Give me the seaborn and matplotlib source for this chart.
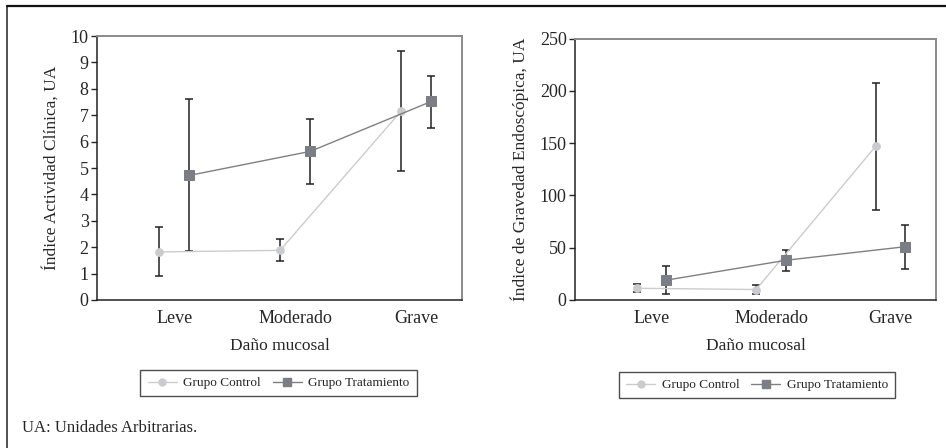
import matplotlib
matplotlib.use("Agg")
import matplotlib.pyplot as plt
from matplotlib.lines import Line2D
import seaborn as sns
import numpy as np
import pandas as pd

categorias = ["Leve", "Moderado", "Grave"]
grupos = ["Grupo Control", "Grupo Tratamiento"]

# Índice de Actividad Clínica (media, límite inferior, límite superior)
iac_control = [1.82, 1.88, 7.15]
iac_control_lo = [0.92, 1.48, 4.88]
iac_control_hi = [2.78, 2.32, 9.45]
iac_trat = [4.72, 5.63, 7.52]
iac_trat_lo = [1.84, 4.38, 6.5]
iac_trat_hi = [7.63, 6.84, 8.48]

# Índice de Gravedad Endoscópica
ige_control = [11.2, 10.0, 147.0]
ige_control_lo = [7.2, 5.8, 86.0]
ige_control_hi = [15.5, 14.4, 208.0]
ige_trat = [19.0, 38.0, 51.0]
ige_trat_lo = [5.5, 27.8, 30.0]
ige_trat_hi = [32.8, 47.6, 71.8]

sns.set_style("white")
plt.rcParams["font.family"] = ["Liberation Serif", "DejaVu Serif"]

col_control = "#c9cbcf"
col_trat = "#7b7e84"
line_control = "#cccccc"
line_trat = "#808080"

fig = plt.figure(figsize=(9.46, 4.48), dpi=100)
ax1 = fig.add_axes([0.1025, 0.3304, 0.3859, 0.5892])
ax2 = fig.add_axes([0.6078, 0.3304, 0.3816, 0.5832])

x = np.arange(len(categorias))


def panel(ax, ctrl, clo, chi, trat, tlo, thi, ylim, yticks, ylabel, off):
    df = pd.DataFrame({
        "x": np.concatenate([x - off, x + off]),
        "y": ctrl + trat,
        "grupo": [grupos[0]] * 3 + [grupos[1]] * 3,
    })
    ax.errorbar(x - off, ctrl,
                yerr=[np.array(ctrl) - np.array(clo), np.array(chi) - np.array(ctrl)],
                fmt="none", ecolor="#222222", elinewidth=1.1, capsize=3.2, capthick=1.1, zorder=2)
    ax.errorbar(x + off, trat,
                yerr=[np.array(trat) - np.array(tlo), np.array(thi) - np.array(trat)],
                fmt="none", ecolor="#222222", elinewidth=1.1, capsize=3.2, capthick=1.1, zorder=2)
    sns.lineplot(data=df[df.grupo == grupos[0]], x="x", y="y", ax=ax, color=line_control,
                 marker="o", markersize=5.5, markerfacecolor=col_control, markeredgecolor=col_control,
                 linewidth=1.0, legend=False, zorder=3)
    sns.lineplot(data=df[df.grupo == grupos[1]], x="x", y="y", ax=ax, color=line_trat,
                 marker="s", markersize=6.8, markerfacecolor=col_trat, markeredgecolor=col_trat,
                 linewidth=1.0, legend=False, zorder=4)
    ax.set_xlim(-0.64, 2.38)
    ax.set_ylim(*ylim)
    ax.set_yticks(yticks)
    ax.set_xticks(x)
    ax.set_xticklabels(categorias, fontsize=13)
    ax.tick_params(axis="y", direction="out", length=4, width=1, labelsize=13, left=True, pad=2)
    ax.tick_params(axis="x", length=0, pad=7)
    ax.set_xlabel("Daño mucosal", fontsize=12.5, labelpad=8)
    ax.set_ylabel(ylabel, fontsize=12.5, labelpad=8)
    for s in ["left", "bottom"]:
        ax.spines[s].set_color("#222222")
        ax.spines[s].set_linewidth(1.1)
    for s in ["top", "right"]:
        ax.spines[s].set_color("#8a8a8a")
        ax.spines[s].set_linewidth(1.4)
    handles = [
        Line2D([], [], color=line_control, marker="o", markersize=5, markerfacecolor=col_control,
               markeredgecolor=col_control, linewidth=1.0),
        Line2D([], [], color=line_trat, marker="s", markersize=6, markerfacecolor=col_trat,
               markeredgecolor=col_trat, linewidth=1.0),
    ]
    return handles


h = panel(ax1, iac_control, iac_control_lo, iac_control_hi, iac_trat, iac_trat_lo, iac_trat_hi,
          (0, 10), range(0, 11), "Índice Actividad Clínica, UA", 0.125)
panel(ax2, ige_control, ige_control_lo, ige_control_hi, ige_trat, ige_trat_lo, ige_trat_hi,
      (0, 250), range(0, 251, 50), "Índice de Gravedad Endoscópica, UA", 0.125)

for cx, cy in [(278.5 / 946, 1 - 383 / 448), (757 / 946, 1 - 385 / 448)]:
    leg = fig.legend(h, grupos, loc="center", bbox_to_anchor=(cx, cy), ncol=2, fontsize=9.5,
                     frameon=True, fancybox=False, edgecolor="#222222", handlelength=2.2,
                     columnspacing=0.9, handletextpad=0.5, borderpad=0.55)
    leg.get_frame().set_linewidth(1.0)

fig.text(22 / 946, 1 - 428 / 448, "UA: Unidades Arbitrarias.", fontsize=12, va="center", ha="left")

# marco exterior (solo izquierda y arriba)
fig.add_artist(Line2D([7 / 946, 7 / 946], [0, 1 - 6 / 448], color="#333333", linewidth=1.2))
fig.add_artist(Line2D([7 / 946, 1], [1 - 6 / 448, 1 - 6 / 448], color="#111111", linewidth=1.6))

fig.savefig("out.png", dpi=100)
